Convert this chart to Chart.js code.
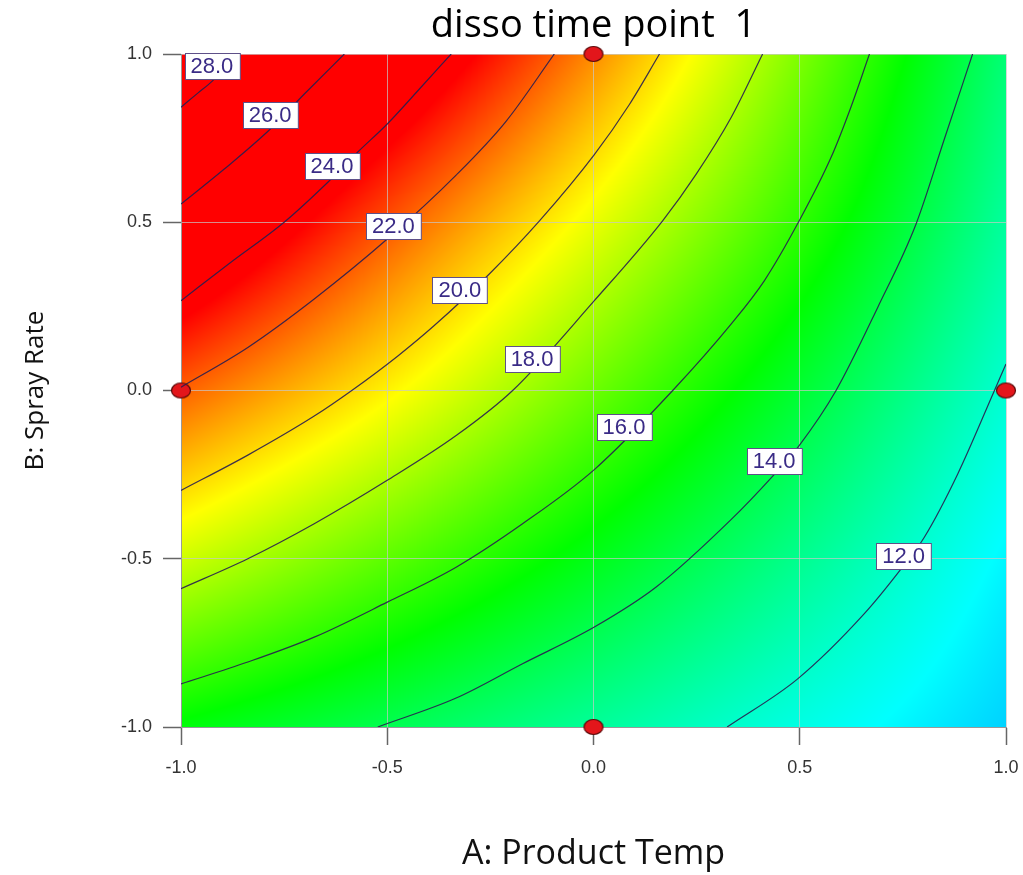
<!DOCTYPE html>
<html>
<head>
<meta charset="utf-8">
<title>disso time point 1</title>
<script src="https://cdn.jsdelivr.net/npm/chart.js@4.4.1/dist/chart.umd.min.js"></script>
<style>
    html, body { margin: 0; padding: 0; background: #fff; }
</style>
</head>
<body>
<canvas id="myChart" width="1023" height="875"></canvas>
<script>
// eixos (valores codificados)
var ticksA = [-1.0, -0.5, 0.0, 0.5, 1.0]
var ticksB = [-1.0, -0.5, 0.0, 0.5, 1.0]

var respB_m10 = [15.1, 13.95, 12.77, 11.56, 10.4]
var respB_m05 = [18.6, 16.74, 14.86, 12.95, 11.0]
var respB_00 = [21.95, 19.56, 16.99, 14.44, 11.85]
var respB_05 = [25.65, 22.2, 19.06, 16.0, 12.7]
var respB_10 = [29.0, 25.2, 21.25, 17.3, 13.35]
var escalaMin = 7.0
var escalaMax = 23.5

// curvas de nível, pares [A, B]
var Nivel28 = [[-1.0, 0.842], [-0.960, 0.883], [-0.923, 0.921], [-0.867, 1.0]]
var Nivel26 = [[-1.0, 0.554], [-0.895, 0.658], [-0.786, 0.774], [-0.701, 0.881], [-0.604, 1.0]]
var Nivel24 = [[-1.0, 0.267], [-0.879, 0.381], [-0.750, 0.5], [-0.644, 0.619], [-0.572, 0.708], [-0.5, 0.792], [-0.422, 0.896], [-0.345, 1.0]]
var Nivel22 = [[-1.0, 0.01], [-0.838, 0.128], [-0.677, 0.272], [-0.5, 0.45], [-0.333, 0.64], [-0.212, 0.80], [-0.095, 1.0]]
var Nivel20 = [[-1.0, -0.297], [-0.838, -0.192], [-0.677, -0.076], [-0.586, 0.0], [-0.475, 0.102], [-0.386, 0.193], [-0.252, 0.347], [-0.131, 0.504], [0.002, 0.701], [0.087, 0.850], [0.160, 1.0]]
var Nivel18 = [[-1.0, -0.589], [-0.838, -0.5], [-0.677, -0.396], [-0.5, -0.267], [-0.333, -0.134], [-0.196, 0.0], [0.002, 0.267], [0.168, 0.505], [0.249, 0.643], [0.334, 0.812], [0.410, 1.0]]
var Nivel16 = [[-1.0, -0.872], [-0.838, -0.807], [-0.677, -0.733], [-0.5, -0.629], [-0.333, -0.525], [-0.172, -0.396], [0.002, -0.235], [0.192, 0.0], [0.334, 0.198], [0.414, 0.326], [0.499, 0.505], [0.576, 0.693], [0.624, 0.842], [0.669, 1.0]]
var Nivel14 = [[-0.523, -1.0], [-0.333, -0.914], [-0.172, -0.812], [0.002, -0.703], [0.152, -0.584], [0.334, -0.383], [0.434, -0.255], [0.499, -0.163], [0.588, 0.0], [0.689, 0.247], [0.782, 0.495], [0.850, 0.745], [0.919, 1.0]]
var Nivel12 = [[0.324, -1.0], [0.495, -0.857], [0.656, -0.664], [0.749, -0.525], [0.802, -0.436], [0.883, -0.248], [0.972, 0.0], [1.0, 0.079]]

// rótulos das curvas
var rotuloTexto = ['28.0', '26.0', '24.0', '22.0', '20.0', '18.0', '16.0', '14.0', '12.0']
var rotuloA = [-0.925, -0.784, -0.634, -0.485, -0.324, -0.149, 0.074, 0.438, 0.752]
var rotuloB = [0.964, 0.819, 0.667, 0.490, 0.299, 0.094, -0.109, -0.210, -0.492]

// pontos do planejamento
var designA = [0, -1, 1, 0]
var designB = [1, 0, 0, -1]

var grade = [respB_m10, respB_m05, respB_00, respB_05, respB_10]
var curvas = [Nivel12, Nivel14, Nivel16, Nivel18, Nivel20, Nivel22, Nivel24, Nivel26, Nivel28]

function cubica(p0, p1, p2, p3, t) {
    return p1 + 0.5 * t * (p2 - p0 + t * (2 * p0 - 5 * p1 + 4 * p2 - p3 + t * (3 * (p1 - p2) + p3 - p0)))
}

function no(lista, i) {
    var n = lista.length
    if (i < 0) return 2 * lista[0] - lista[1]
    if (i > n - 1) return 2 * lista[n - 1] - lista[n - 2]
    return lista[i]
}

function interp(lista, u) {
    var i = Math.floor(u)
    if (i > lista.length - 2) i = lista.length - 2
    if (i < 0) i = 0
    var t = u - i
    return cubica(no(lista, i - 1), no(lista, i), no(lista, i + 1), no(lista, i + 2), t)
}

function valor(a, b) {
    var u = (a - ticksA[0]) / (ticksA[1] - ticksA[0])
    var v = (b - ticksB[0]) / (ticksB[1] - ticksB[0])
    var coluna = []
    for (var k = 0; k < grade.length; k++) {
        coluna.push(interp(grade[k], u))
    }
    return interp(coluna, v)
}

function cor(val) {
    var f = (escalaMax - val) / (escalaMax - escalaMin)
    if (f < 0) f = 0
    if (f > 1) f = 1
    var h = 240 * f / 60
    var x = 1 - Math.abs((h % 2) - 1)
    var r, g, b
    if (h < 1) { r = 1; g = x; b = 0 }
    else if (h < 2) { r = x; g = 1; b = 0 }
    else if (h < 3) { r = 0; g = 1; b = x }
    else { r = 0; g = x; b = 1 }
    return [Math.round(r * 255), Math.round(g * 255), Math.round(b * 255)]
}

var fundo = {
    id: 'fundo',
    beforeDraw: function (chart) {
        var area = chart.chartArea
        var xs = chart.scales.x
        var ys = chart.scales.y
        var w = Math.round(area.right - area.left)
        var h = Math.round(area.bottom - area.top)
        if (!chart.$img || chart.$img.width != w || chart.$img.height != h) {
            var img = chart.ctx.createImageData(w, h)
            for (var j = 0; j < h; j++) {
                var b = ys.getValueForPixel(area.top + j + 0.5)
                for (var i = 0; i < w; i++) {
                    var a = xs.getValueForPixel(area.left + i + 0.5)
                    var c = cor(valor(a, b))
                    var k = (j * w + i) * 4
                    img.data[k] = c[0]
                    img.data[k + 1] = c[1]
                    img.data[k + 2] = c[2]
                    img.data[k + 3] = 255
                }
            }
            chart.$img = img
        }
        chart.ctx.putImageData(chart.$img, Math.round(area.left), Math.round(area.top))
    }
}

var rotulos = {
    id: 'rotulos',
    afterDatasetsDraw: function (chart) {
        var ctx = chart.ctx
        var xs = chart.scales.x
        var ys = chart.scales.y
        ctx.save()
        ctx.font = '22px "Liberation Sans", Arial, sans-serif'
        ctx.textAlign = 'center'
        ctx.textBaseline = 'middle'
        for (var i = 0; i < rotuloTexto.length; i++) {
            var px = xs.getPixelForValue(rotuloA[i])
            var py = ys.getPixelForValue(rotuloB[i])
            var bw = ctx.measureText(rotuloTexto[i]).width + 12
            var bh = 26
            var x0 = Math.round(px - bw / 2) + 0.5
            var y0 = Math.round(py - bh / 2) + 0.5
            ctx.fillStyle = '#ffffff'
            ctx.fillRect(x0, y0, bw, bh)
            ctx.strokeStyle = '#5e5088'
            ctx.lineWidth = 1
            ctx.strokeRect(x0, y0, bw, bh)
            ctx.fillStyle = '#3a2b86'
            ctx.fillText(rotuloTexto[i], px, py + 1)
        }
        ctx.restore()
    }
}

// marcador elíptico vermelho
var marca = document.createElement('canvas')
marca.width = 22
marca.height = 18
var mc = marca.getContext('2d')
mc.beginPath()
mc.ellipse(11, 9, 9.5, 7.5, 0, 0, 2 * Math.PI)
mc.fillStyle = '#e3161b'
mc.fill()
mc.lineWidth = 1.2
mc.strokeStyle = '#5a0a0a'
mc.stroke()

var conjuntos = []
for (var c = 0; c < curvas.length; c++) {
    conjuntos.push({
        data: curvas[c].map(function (p) { return { x: p[0], y: p[1] } }),
        showLine: true,
        pointRadius: 0,
        borderColor: 'rgba(40, 30, 80, 0.9)',
        borderWidth: 1.2,
        cubicInterpolationMode: 'monotone',
        fill: false
    })
}
conjuntos.push({
    data: designA.map(function (a, i) { return { x: a, y: designB[i] } }),
    showLine: false,
    pointStyle: marca,
    pointRadius: 9,
    clip: false
})

var fonteEixo = { family: '"Liberation Sans", Arial, sans-serif', size: 18 }

var ctx = document.getElementById('myChart')

var myChart = new Chart(ctx, {
    type: 'scatter',
    data: { datasets: conjuntos },
    plugins: [fundo, rotulos],
    options: {
        responsive: false,
        animation: false,
        events: [],
        layout: { padding: { left: 0, right: 0, top: 0, bottom: 0 } },
        plugins: {
            legend: { display: false },
            tooltip: { enabled: false },
            title: { display: false }
        },
        scales: {
            x: {
                type: 'linear',
                position: 'bottom',
                min: -1,
                max: 1,
                afterFit: function (s) { s.height = 148; s.paddingRight = 17 },
                afterBuildTicks: function (s) { s.ticks = ticksA.map(function (v) { return { value: v } }) },
                ticks: {
                    font: fonteEixo,
                    color: '#333',
                    padding: 12,
                    maxRotation: 0,
                    callback: function (v) { return Number(v).toFixed(1) }
                },
                grid: { color: 'rgba(200, 200, 200, 0.7)', tickColor: '#666', tickLength: 18, tickWidth: 1.5 },
                border: { display: true, color: '#999' },
                title: {
                    display: true,
                    text: 'A: Product Temp',
                    color: '#111',
                    font: { family: '"Open Sans", sans-serif', size: 34 },
                    padding: { top: 0, bottom: 0 }
                }
            },
            topo: {
                type: 'linear',
                axis: 'x',
                position: 'top',
                min: -1,
                max: 1,
                afterFit: function (s) { s.height = 54 },
                ticks: { display: false },
                grid: { display: false, drawTicks: false },
                border: { display: false },
                title: {
                    display: true,
                    text: 'disso time point  1',
                    color: '#000',
                    font: { family: '"Open Sans", sans-serif', size: 38 },
                    padding: { top: 3, bottom: 0 }
                }
            },
            y: {
                type: 'linear',
                position: 'left',
                min: -1,
                max: 1,
                afterFit: function (s) { s.width = 181 },
                afterBuildTicks: function (s) { s.ticks = ticksB.map(function (v) { return { value: v } }) },
                ticks: {
                    font: fonteEixo,
                    color: '#333',
                    padding: 11,
                    callback: function (v) { return Number(v).toFixed(1) }
                },
                grid: { color: 'rgba(200, 200, 200, 0.7)', tickColor: '#666', tickLength: 18, tickWidth: 1.5 },
                border: { display: true, color: '#999' },
                title: {
                    display: true,
                    text: 'B: Spray Rate',
                    color: '#111',
                    font: { family: '"Open Sans", sans-serif', size: 26 },
                    padding: { top: 20, bottom: 0 }
                }
            }
        }
    }
});
</script>
</body>
</html>
